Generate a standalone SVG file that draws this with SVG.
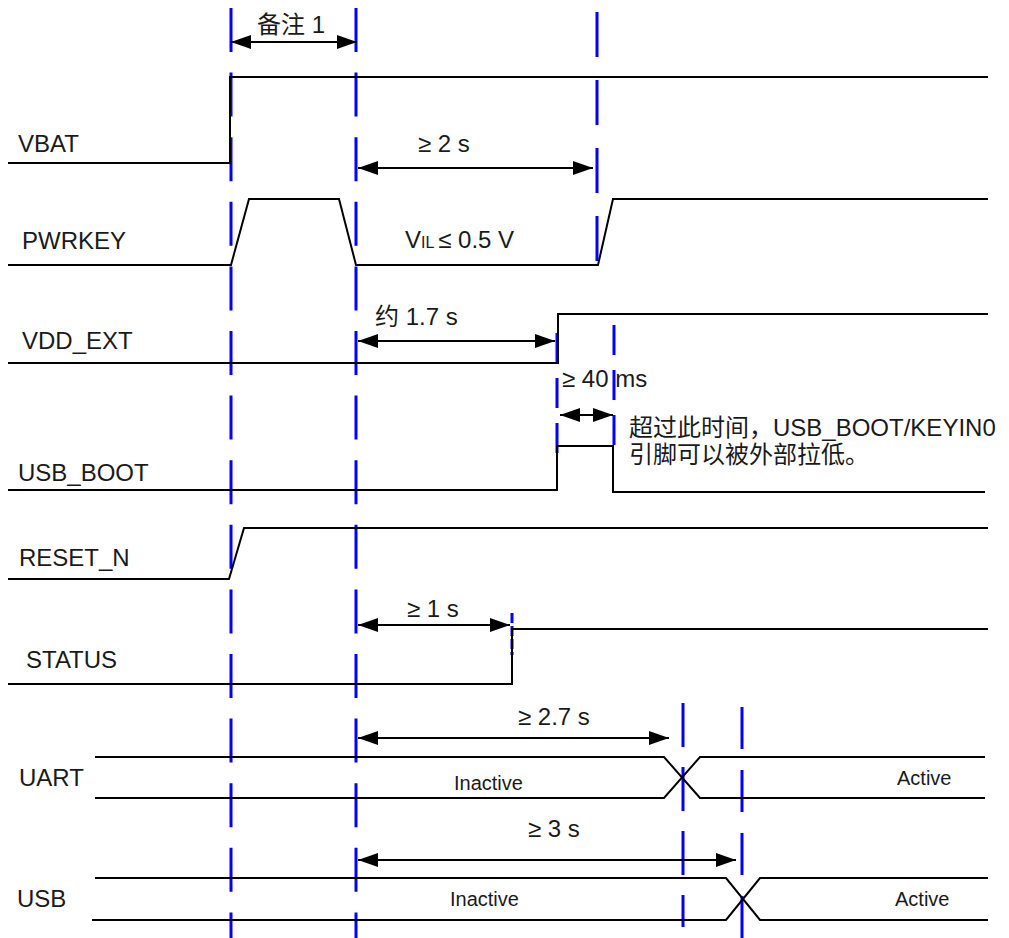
<svg xmlns="http://www.w3.org/2000/svg" width="1009" height="938" viewBox="0 0 1009 938">
<style>
text{font-family:"Liberation Sans","Noto Sans CJK SC",sans-serif;font-size:24px;fill:#1a1a1a}
.sm{font-size:20px}
.sig{fill:none;stroke:#000;stroke-width:2;stroke-linejoin:miter}
.g{stroke:#0000FF;stroke-width:3;fill:none}
.arr{stroke:#000;stroke-width:2;fill:none;marker-start:url(#ah);marker-end:url(#ah)}
</style>
<defs>
<marker id="ah" markerWidth="20" markerHeight="14" refX="20" refY="7" orient="auto-start-reverse" markerUnits="userSpaceOnUse">
<path d="M0,0 L20,7 L0,14 z" fill="#000"/>
</marker>
</defs>
<rect width="1009" height="938" fill="#fff"/>
<g id="guides">
<line class="g" x1="231" y1="8" x2="231" y2="938" stroke-dasharray="44 20.6"/>
<line class="g" x1="356" y1="8" x2="356" y2="938" stroke-dasharray="44 20.6"/>
<line class="g" x1="597" y1="12" x2="597" y2="264" stroke-dasharray="45 23"/>
<line class="g" x1="557" y1="333" x2="557" y2="453" stroke-dasharray="30 15"/>
<line class="g" x1="614" y1="325" x2="614" y2="445" stroke-dasharray="30 15"/>
<line class="g" x1="512" y1="613" x2="512" y2="655" stroke-dasharray="10 3"/>
<line class="g" x1="683" y1="703" x2="683" y2="927" stroke-width="5" stroke-dasharray="44 20"/>
<line class="g" x1="742" y1="707" x2="742" y2="938" stroke-dasharray="42 21"/>
</g>
<g id="vbat">
<text x="18" y="152">VBAT</text>
<polyline class="sig" points="8,163 230,163 230,77 988,77"/>
</g>
<g id="pwrkey">
<text x="22" y="249">PWRKEY</text>
<polyline class="sig" points="8,265 231,265 249,199 339,199 356,265 598,265 613,199 988,199"/>
</g>
<g id="vdd_ext">
<text x="22" y="349">VDD_EXT</text>
<polyline class="sig" points="8,363 558,363 558,314 988,314"/>
</g>
<g id="usb_boot">
<text x="18" y="481">USB_BOOT</text>
<polyline class="sig" points="8,490 557,490 557,446 613,446 613,492 985,492"/>
<text x="629" y="436">超过此时间，USB_BOOT/KEYIN0</text>
<text x="629" y="463">引脚可以被外部拉低。</text>
</g>
<g id="reset_n">
<text x="19" y="566">RESET_N</text>
<polyline class="sig" points="8,579 229,579 244,528 988,528"/>
</g>
<g id="status">
<text x="26" y="668">STATUS</text>
<polyline class="sig" points="8,684 512,684 512,629 988,629"/>
</g>
<g id="uart">
<text x="19" y="786">UART</text>
<polyline class="sig" points="95,757 664,757 700,798 985,798"/>
<polyline class="sig" points="95,798 664,798 700,757 985,757"/>
<text class="sm" x="454" y="790">Inactive</text>
<text class="sm" x="897" y="785">Active</text>
</g>
<g id="usb">
<text x="17" y="907">USB</text>
<polyline class="sig" points="95,878 726,878 760,920 988,920"/>
<polyline class="sig" points="92,920 726,920 760,878 988,878"/>
<text class="sm" x="450" y="906">Inactive</text>
<text class="sm" x="895" y="906">Active</text>
</g>
<g id="connectors">
<line class="arr" x1="231" y1="42" x2="357" y2="42"/>
<text x="257" y="33">备注 1</text>
<line class="arr" x1="358" y1="168" x2="593" y2="168"/>
<text x="418" y="152">≥ 2 s</text>
<text x="405" y="248">V<tspan font-size="16">IL </tspan>≤ 0.5 V</text>
<line class="arr" x1="358" y1="341" x2="555" y2="341"/>
<text x="375" y="325">约 1.7 s</text>
<line class="arr" x1="560" y1="415" x2="613" y2="415"/>
<text x="562" y="387">≥ 40 ms</text>
<line class="arr" x1="358" y1="625" x2="510" y2="625"/>
<text x="407" y="617">≥ 1 s</text>
<line class="arr" x1="358" y1="738" x2="669" y2="738"/>
<text x="518" y="725">≥ 2.7 s</text>
<line class="arr" x1="358" y1="860" x2="736" y2="860"/>
<text x="528" y="837">≥ 3 s</text>
</g>
</svg>
